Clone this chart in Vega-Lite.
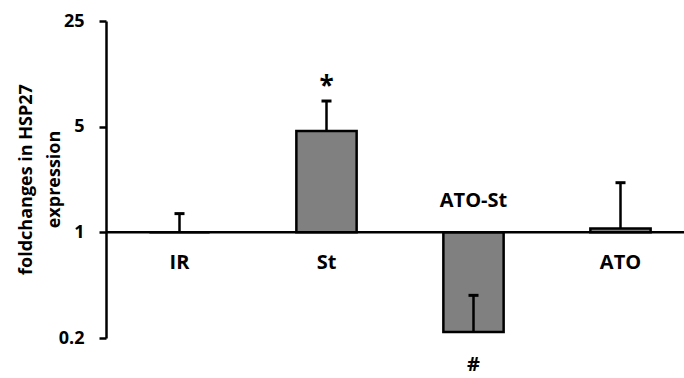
{
  "$schema": "https://vega.github.io/schema/vega-lite/v6.json",
  "width": 588,
  "height": 317,
  "autosize": "none",
  "padding": {"left": 106, "top": 21, "right": 0, "bottom": 40},
  "background": "white",
  "config": {"view": {"stroke": null}, "font": "Open Sans"},
  "data": {
    "values": [
      {"group": "IR", "mean": 1.0, "upper": 1.33, "above": "", "below": ""},
      {"group": "St", "mean": 4.68, "upper": 7.39, "above": "*", "below": ""},
      {"group": "ATO-St", "mean": 0.219, "upper": 0.383, "above": "", "below": "#"},
      {"group": "ATO", "mean": 1.06, "upper": 2.13, "above": "", "below": ""}
    ]
  },
  "layer": [
    {
      "mark": {"type": "bar", "fill": "#808080", "stroke": "black", "strokeWidth": 2.5},
      "encoding": {
        "x": {"field": "group", "type": "nominal", "sort": null, "scale": {"paddingInner": 0.59, "paddingOuter": 0.295}, "axis": null},
        "y": {
          "field": "mean",
          "type": "quantitative",
          "scale": {"type": "log", "base": 5, "domain": [0.2, 25], "nice": false},
          "axis": {
            "values": [0.2, 1, 5, 25],
            "format": "~g",
            "title": ["foldchanges in HSP27", "expression"],
            "grid": false,
            "domainColor": "black",
            "domainWidth": 2.5,
            "tickColor": "black",
            "tickWidth": 2.5,
            "tickSize": 7,
            "labelFont": "Open Sans",
            "labelFontWeight": "bold",
            "labelFontSize": 18,
            "labelColor": "black",
            "labelPadding": 15,
            "titleFont": "Open Sans",
            "titleFontWeight": "bold",
            "titleFontSize": 18,
            "titleColor": "black",
            "titleLineHeight": 28,
            "titleAngle": -90,
            "titleBaseline": "alphabetic",
            "titleAlign": "center",
            "titleX": -75,
            "titleY": 158
          }
        },
        "y2": {"datum": 1}
      }
    },
    {
      "mark": {"type": "rule", "strokeWidth": 2.5, "color": "black"},
      "encoding": {
        "x": {"field": "group", "type": "nominal", "sort": null},
        "y": {"field": "mean", "type": "quantitative"},
        "y2": {"field": "upper"}
      }
    },
    {
      "mark": {"type": "tick", "orient": "horizontal", "size": 10, "thickness": 3, "color": "black", "opacity": 1},
      "encoding": {
        "x": {"field": "group", "type": "nominal", "sort": null},
        "y": {"field": "upper", "type": "quantitative"}
      }
    },
    {
      "data": {"values": [{}]},
      "mark": {"type": "rule", "strokeWidth": 2.5, "color": "black"},
      "encoding": {"y": {"datum": 1}}
    },
    {
      "transform": [{"filter": "datum.group != 'ATO-St'"}],
      "mark": {"type": "text", "dy": 31, "baseline": "middle", "fontWeight": "bold", "fontSize": 20, "color": "black"},
      "encoding": {
        "x": {"field": "group", "type": "nominal", "sort": null},
        "y": {"datum": 1},
        "text": {"field": "group"}
      }
    },
    {
      "transform": [{"filter": "datum.group == 'ATO-St'"}],
      "mark": {"type": "text", "dy": -31, "baseline": "middle", "fontWeight": "bold", "fontSize": 20, "color": "black"},
      "encoding": {
        "x": {"field": "group", "type": "nominal", "sort": null},
        "y": {"datum": 1},
        "text": {"field": "group"}
      }
    },
    {
      "mark": {"type": "text", "dy": -14, "baseline": "middle", "fontWeight": "bold", "fontSize": 26, "color": "black"},
      "encoding": {
        "x": {"field": "group", "type": "nominal", "sort": null},
        "y": {"field": "upper", "type": "quantitative"},
        "text": {"field": "above"}
      }
    },
    {
      "mark": {"type": "text", "dy": 33, "baseline": "middle", "fontWeight": "bold", "fontSize": 20, "color": "black"},
      "encoding": {
        "x": {"field": "group", "type": "nominal", "sort": null},
        "y": {"field": "mean", "type": "quantitative"},
        "text": {"field": "below"}
      }
    }
  ]
}
